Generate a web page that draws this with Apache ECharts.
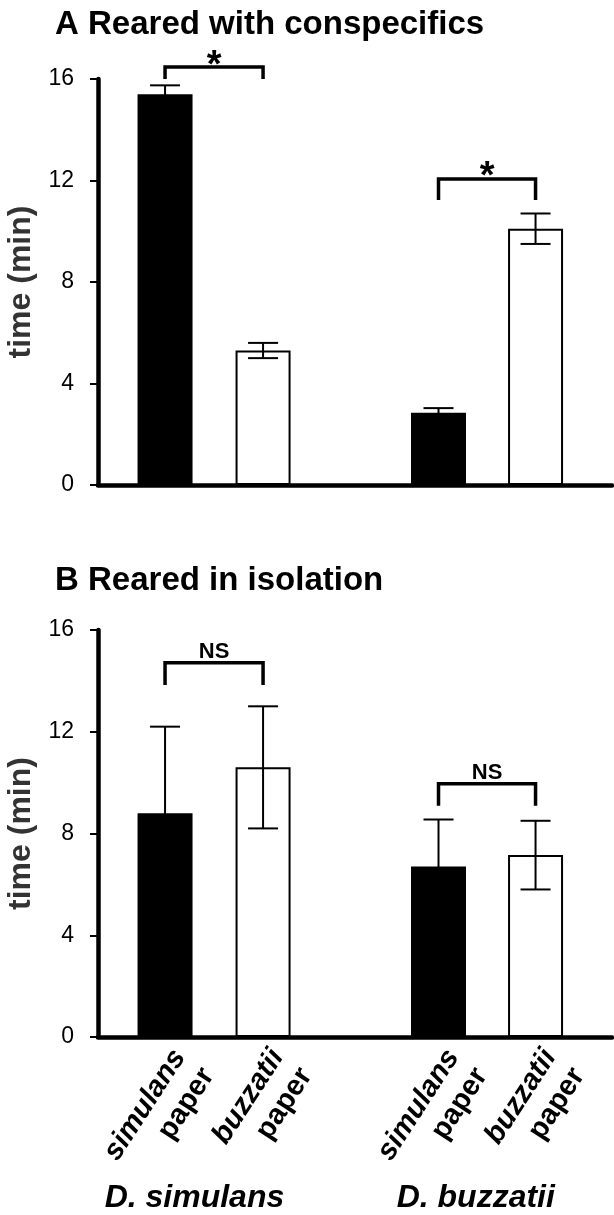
<!DOCTYPE html>
<html>
<head>
<meta charset="utf-8">
<script src="https://cdn.jsdelivr.net/npm/echarts@6.0.0/dist/echarts.min.js"></script>
<style>
  html, body { margin: 0; padding: 0; background: #fff; }
  #chart { width: 614px; height: 1215px; }
</style>
</head>
<body>
<div id="chart"></div>
<script>
// data (minutes)
const species = ["D. simulans", "D. buzzatii"];
const choices = ["simulans", "buzzatii"]; // paper type, one per bar in a group
const conspMean = [15.4, 5.3, 2.85, 10.1];
const conspErr = [0.35, 0.3, 0.18, 0.6];
const isoMean = [8.8, 10.6, 6.7, 7.15];
const isoErr = [3.4, 2.4, 1.85, 1.35];
const yTicks = [0, 4, 8, 12, 16];
// brackets: [first bar, second bar, bracket top, leg end, mark]
const conspBrackets = [[0, 1, 16.47, 16.0, "*"], [2, 3, 12.06, 11.23, "*"]];
const isoBrackets = [[0, 1, 14.71, 13.84, "NS"], [2, 3, 9.96, 9.09, "NS"]];

// layout only: bar positions along the x axis and where group names sit
const barPos = [1, 2, 3.79, 4.78];
const groupPos = [1.3, 4.17];
const xMin = 0.316, xMax = 5.56;

const FONT = "Liberation Sans, Arial, sans-serif";
const chart = echarts.init(document.getElementById("chart"), null, { renderer: "canvas" });

const grids = [
  { left: 98, right: 2, top: 79, height: 406, outerBoundsMode: "none" },
  { left: 98, right: 2, top: 630, height: 407, outerBoundsMode: "none" },
];

function yAxisFor(gridIndex) {
  return {
    type: "value",
    gridIndex,
    min: yTicks[0],
    max: yTicks[yTicks.length - 1],
    interval: 4,
    name: "time (min)",
    nameLocation: "middle",
    nameGap: 55,
    nameTextStyle: { fontFamily: FONT, fontSize: 32, fontWeight: "bold", color: "#333" },
    axisLine: { show: true, lineStyle: { color: "#000", width: 4.5 } },
    axisTick: { show: true, length: 8, lineStyle: { color: "#000", width: 2 } },
    axisLabel: { fontFamily: FONT, fontSize: 23, color: "#000", margin: 24 },
    splitLine: { show: false },
  };
}

function barSeries(means, gridIndex) {
  return {
    type: "bar",
    xAxisIndex: gridIndex,
    yAxisIndex: gridIndex,
    barWidth: 55,
    data: means.map((m, i) => ({
      value: [barPos[i], m],
      itemStyle: i % 2 === 0
        ? { color: "#000", borderColor: "#000", borderWidth: 0 }
        : { color: "#fff", borderColor: "#000", borderWidth: 2 },
    })),
    z: 2,
  };
}

function errorSeries(means, errs, gridIndex) {
  return {
    type: "custom",
    xAxisIndex: gridIndex,
    yAxisIndex: gridIndex,
    data: means.map((m, i) => [barPos[i], m, errs[i]]),
    z: 3,
    renderItem: function (params, api) {
      const x = api.value(0), m = api.value(1), e = api.value(2);
      const hi = api.coord([x, m + e]);
      const lo = api.coord([x, m - e]);
      const cap = 15;
      const st = { stroke: "#000", lineWidth: 2 };
      return {
        type: "group",
        children: [
          { type: "line", shape: { x1: hi[0], y1: hi[1], x2: lo[0], y2: lo[1] }, style: st },
          { type: "line", shape: { x1: hi[0] - cap, y1: hi[1], x2: hi[0] + cap, y2: hi[1] }, style: st },
          { type: "line", shape: { x1: lo[0] - cap, y1: lo[1], x2: lo[0] + cap, y2: lo[1] }, style: st },
        ],
      };
    },
  };
}

function bracketSeries(brackets, gridIndex) {
  return {
    type: "custom",
    xAxisIndex: gridIndex,
    yAxisIndex: gridIndex,
    clip: false,
    data: brackets.map((b) => [barPos[b[0]], barPos[b[1]], b[2], b[3]]),
    z: 4,
    renderItem: function (params, api) {
      const x1 = api.value(0), x2 = api.value(1), top = api.value(2), leg = api.value(3);
      const mark = brackets[params.dataIndex][4];
      const a = api.coord([x1, leg]);
      const b = api.coord([x1, top]);
      const c = api.coord([x2, top]);
      const d = api.coord([x2, leg]);
      const isStar = mark === "*";
      return {
        type: "group",
        children: [
          {
            type: "polyline",
            shape: { points: [a, b, c, d] },
            style: { stroke: "#000", lineWidth: 3.5, fill: null },
          },
          {
            type: "text",
            x: (b[0] + c[0]) / 2,
            y: isStar ? b[1] - 1 : b[1] - 11,
            style: {
              text: mark,
              fontFamily: FONT,
              fontWeight: "bold",
              fontSize: isStar ? 38 : 22,
              fill: "#000",
              align: "center",
              verticalAlign: "middle",
            },
          },
        ],
      };
    },
  };
}

const option = {
  animation: false,
  backgroundColor: "#fff",
  title: [
    {
      text: "A Reared with conspecifics",
      left: 50,
      top: 3,
      textStyle: { fontFamily: FONT, fontSize: 33, fontWeight: "bold", color: "#000" },
    },
    {
      text: "B Reared in isolation",
      left: 50,
      top: 559,
      textStyle: { fontFamily: FONT, fontSize: 33, fontWeight: "bold", color: "#000" },
    },
  ],
  grid: grids,
  xAxis: [
    {
      type: "value",
      gridIndex: 0,
      min: xMin,
      max: xMax,
      axisLine: { show: true, onZero: false, lineStyle: { color: "#000", width: 4.5 } },
      axisTick: { show: false },
      axisLabel: { show: false },
      splitLine: { show: false },
    },
    {
      type: "value",
      gridIndex: 1,
      min: xMin,
      max: xMax,
      axisLine: { show: true, onZero: false, lineStyle: { color: "#000", width: 4.5 } },
      axisTick: { show: false },
      splitLine: { show: false },
      axisLabel: {
        customValues: barPos,
        rotate: 57,
        margin: 6,
        verticalAlign: "top",
        align: "right",
        lineHeight: 34,
        formatter: function (v) {
          let i = 0;
          barPos.forEach((p, k) => { if (Math.abs(p - v) < 1e-6) i = k; });
          return "{i|" + choices[i % 2] + "}\n{n|paper}";
        },
        rich: {
          i: { fontFamily: FONT, fontSize: 29, fontWeight: "bold", fontStyle: "italic", color: "#000", lineHeight: 34, align: "right" },
          n: { fontFamily: FONT, fontSize: 29, fontWeight: "bold", color: "#000", lineHeight: 34, align: "right" },
        },
      },
    },
    {
      type: "value",
      gridIndex: 1,
      min: xMin,
      max: xMax,
      position: "bottom",
      offset: 137,
      axisLine: { show: false, onZero: false },
      axisTick: { show: false },
      splitLine: { show: false },
      axisLabel: {
        customValues: groupPos,
        margin: 8,
        fontFamily: FONT,
        fontSize: 32,
        fontWeight: "bold",
        fontStyle: "italic",
        color: "#000",
        formatter: function (v) {
          return v < 3 ? species[0] : species[1];
        },
      },
    },
  ],
  yAxis: [yAxisFor(0), yAxisFor(1)],
  series: [
    barSeries(conspMean, 0),
    errorSeries(conspMean, conspErr, 0),
    bracketSeries(conspBrackets, 0),
    barSeries(isoMean, 1),
    errorSeries(isoMean, isoErr, 1),
    bracketSeries(isoBrackets, 1),
  ],
};

chart.setOption(option);
</script>
</body>
</html>
